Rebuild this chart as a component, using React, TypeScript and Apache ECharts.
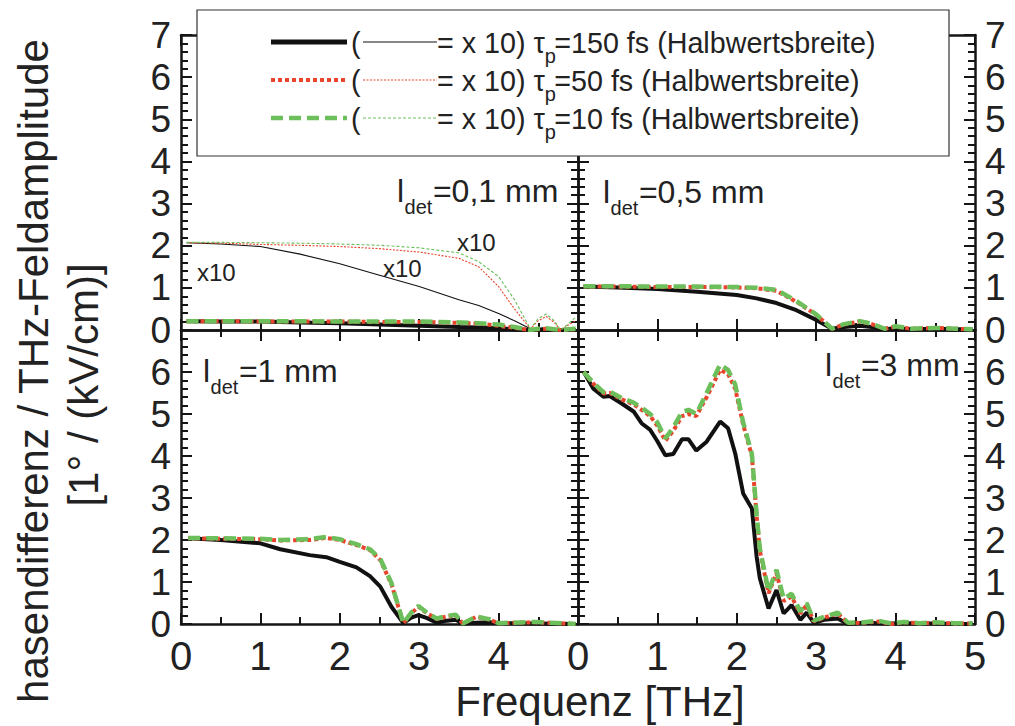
import React, { useEffect, useRef } from 'react';
import * as echarts from 'echarts';

const FONT = '"Liberation Sans", Arial, Helvetica, sans-serif';

// ---------- data (frequency in THz, amplitude) ----------
// l_det = 0,1 mm
const TL_F = [0.07, 0.5, 1.0, 1.5, 2.0, 2.5, 3.0, 3.5, 3.75, 4.0, 4.2, 4.4, 4.5, 4.6, 4.7, 4.78, 4.88, 4.97];
const TL_150 = [0.21, 0.2, 0.2, 0.18, 0.16, 0.13, 0.1, 0.07, 0.06, 0.04, 0.02, 0.0, 0.0, 0.01, 0.0, 0.0, 0.0, 0.0];
const TL_50 = [0.21, 0.21, 0.2, 0.2, 0.2, 0.19, 0.19, 0.17, 0.15, 0.1, 0.05, 0.0, 0.02, 0.03, 0.02, 0.0, 0.01, 0.02];
const TL_10 = [0.21, 0.21, 0.21, 0.21, 0.2, 0.2, 0.2, 0.18, 0.16, 0.13, 0.07, 0.0, 0.03, 0.04, 0.02, 0.0, 0.02, 0.03];
const TL_150_X10 = [2.07, 2.04, 1.98, 1.8, 1.57, 1.3, 1.03, 0.72, 0.58, 0.39, 0.22, 0.03, 0.04, 0.06, 0.03, 0.0, 0.02, 0.03];
const TL_50_X10 = [2.07, 2.06, 2.03, 2.01, 1.98, 1.93, 1.85, 1.7, 1.5, 1.03, 0.5, 0.03, 0.22, 0.32, 0.18, 0.0, 0.12, 0.22];
const TL_10_X10 = [2.08, 2.08, 2.07, 2.06, 2.04, 2.01, 1.95, 1.83, 1.62, 1.27, 0.72, 0.03, 0.27, 0.38, 0.22, 0.0, 0.15, 0.3];

// l_det = 0,5 mm
const TR_F = [0.07, 0.5, 1.0, 1.5, 2.0, 2.25, 2.5, 2.75, 3.0, 3.2, 3.35, 3.55, 3.7, 3.86, 4.0, 4.2, 4.5, 4.75, 4.97];
const TR_150 = [1.03, 1.01, 0.97, 0.91, 0.83, 0.75, 0.64, 0.47, 0.24, 0.03, 0.07, 0.1, 0.07, 0.02, 0.04, 0.02, 0.03, 0.02, 0.02];
const TR_50 = [1.03, 1.03, 1.02, 1.02, 1.01, 0.99, 0.93, 0.67, 0.36, 0.03, 0.13, 0.2, 0.14, 0.03, 0.08, 0.03, 0.05, 0.03, 0.02];
const TR_10 = [1.04, 1.04, 1.03, 1.03, 1.02, 1.0, 0.95, 0.69, 0.37, 0.03, 0.14, 0.21, 0.15, 0.03, 0.09, 0.03, 0.05, 0.03, 0.02];

// l_det = 1 mm
const BL_F = [0.09, 0.5, 1.0, 1.25, 1.62, 1.83, 2.0, 2.21, 2.38, 2.51, 2.65, 2.8, 2.9, 2.99, 3.1, 3.22, 3.35, 3.46, 3.55, 3.72, 3.89, 4.0, 4.46, 4.97];
const BL_150 = [2.04, 2.0, 1.92, 1.78, 1.64, 1.59, 1.48, 1.35, 1.14, 0.89, 0.41, 0.02, 0.15, 0.21, 0.14, 0.03, 0.08, 0.1, 0.01, 0.03, 0.04, 0.02, 0.01, 0.0];
const BL_50 = [2.04, 2.03, 2.02, 1.99, 2.0, 2.05, 2.0, 1.88, 1.76, 1.52, 0.95, 0.02, 0.25, 0.41, 0.25, 0.12, 0.18, 0.2, 0.01, 0.17, 0.1, 0.02, 0.04, 0.0];
const BL_10 = [2.05, 2.04, 2.03, 2.0, 2.02, 2.07, 2.02, 1.9, 1.78, 1.55, 0.98, 0.02, 0.27, 0.43, 0.27, 0.13, 0.19, 0.22, 0.01, 0.18, 0.11, 0.02, 0.05, 0.0];

// l_det = 3 mm
const BR_F = [0.07, 0.19, 0.32, 0.4, 0.55, 0.7, 0.8, 0.91, 1.0, 1.1, 1.2, 1.31, 1.39, 1.49, 1.62, 1.79, 1.89, 1.98, 2.08, 2.19, 2.25, 2.29, 2.4, 2.5, 2.59, 2.69, 2.8, 2.88, 2.97, 3.1, 3.27, 3.4, 3.6, 3.78, 3.95, 4.1, 4.3, 4.5, 4.75, 4.97];
const BR_150 = [6.01, 5.61, 5.41, 5.43, 5.25, 5.06, 4.78, 4.62, 4.35, 4.02, 4.05, 4.4, 4.4, 4.13, 4.34, 4.82, 4.66, 4.06, 3.11, 2.75, 1.6, 1.09, 0.37, 0.81, 0.25, 0.45, 0.1, 0.27, 0.03, 0.1, 0.13, 0.0, 0.03, 0.02, 0.01, 0.02, 0.01, 0.01, 0.0, 0.0];
const BR_50 = [6.0, 5.73, 5.49, 5.5, 5.35, 5.23, 5.1, 4.95, 4.72, 4.36, 4.6, 4.95, 5.0, 4.95, 5.4, 6.05, 5.95, 5.6, 4.75, 4.0, 2.56, 1.75, 0.73, 1.21, 0.55, 0.65, 0.25, 0.45, 0.06, 0.15, 0.25, 0.02, 0.03, 0.06, 0.0, 0.04, 0.02, 0.03, 0.01, 0.01];
const BR_10 = [6.0, 5.75, 5.52, 5.53, 5.38, 5.27, 5.15, 5.0, 4.8, 4.42, 4.68, 5.05, 5.1, 5.0, 5.5, 6.18, 6.05, 5.7, 4.8, 4.05, 2.6, 1.8, 0.78, 1.29, 0.6, 0.72, 0.3, 0.5, 0.08, 0.17, 0.27, 0.03, 0.04, 0.08, 0.01, 0.05, 0.02, 0.04, 0.02, 0.02];

const X_TICKS_MAX = 5;
const Y_TICKS_MAX = 7;
const PANEL_LABELS = ['=0,1 mm', '=0,5 mm', '=1 mm', '=3 mm'];
const LEGEND_LABELS = ['=150 fs (Halbwertsbreite)', '=50 fs (Halbwertsbreite)', '=10 fs (Halbwertsbreite)'];

// ---------- styles ----------
const C_BLACK = '#111111';
const C_RED = '#e8452c';
const C_GREEN = '#6cbf5a';
const AX = '#151515';

const GRIDS = [
  { left: 181, top: 35, width: 397, height: 295 },
  { left: 578, top: 35, width: 397, height: 295 },
  { left: 181, top: 330, width: 397, height: 294 },
  { left: 578, top: 330, width: 397, height: 294 },
];

function measure(text: string, size: number) {
  const ctx = document.createElement('canvas').getContext('2d')!;
  ctx.font = `${size}px ${FONT}`;
  return ctx.measureText(text).width;
}

function xAxisDef(gridIndex: number, position: 'bottom' | 'top', showLabels: boolean, hideMax: boolean) {
  return {
    type: 'value', gridIndex, position, min: 0, max: X_TICKS_MAX, interval: 1,
    axisLine: { show: true, onZero: false, lineStyle: { color: AX, width: 2.5 } },
    axisTick: { show: true, inside: true, length: 11, lineStyle: { color: AX, width: 2 } },
    minorTick: { show: true, splitNumber: 2, length: 7, lineStyle: { color: AX, width: 2 } },
    splitLine: { show: false },
    axisLabel: {
      show: showLabels, margin: 12, fontSize: 40, color: '#222', fontFamily: FONT,
      showMinLabel: true, showMaxLabel: true, hideOverlap: false,
      formatter: (v: number) => (hideMax && v === X_TICKS_MAX ? '' : String(v)),
    },
  };
}

function yAxisDef(gridIndex: number, position: 'left' | 'right', showLabels: boolean, hideMax: boolean) {
  return {
    type: 'value', gridIndex, position, min: 0, max: Y_TICKS_MAX, interval: 1,
    axisLine: { show: true, onZero: false, lineStyle: { color: AX, width: 2.5 } },
    axisTick: { show: true, inside: true, length: 11, lineStyle: { color: AX, width: 2 } },
    minorTick: { show: true, splitNumber: 5, length: 7, lineStyle: { color: AX, width: 2 } },
    splitLine: { show: false },
    axisLabel: {
      show: showLabels, margin: 10, fontSize: 37, lineHeight: 37, color: '#222', fontFamily: FONT,
      showMinLabel: true, showMaxLabel: true, hideOverlap: false,
      formatter: (v: number) => (hideMax && v === Y_TICKS_MAX ? '' : String(v)),
    },
  };
}

type Kind = 'black' | 'red' | 'green';
function lineStyle(kind: Kind, thin: boolean) {
  if (thin) {
    if (kind === 'black') return { color: C_BLACK, width: 1.1, type: 'solid' };
    if (kind === 'red') return { color: C_RED, width: 1.1, type: [2, 1.5] };
    return { color: C_GREEN, width: 1.1, type: [3, 2] };
  }
  if (kind === 'black') return { color: C_BLACK, width: 4, type: 'solid' };
  if (kind === 'red') return { color: C_RED, width: 4, type: [4, 3] };
  return { color: C_GREEN, width: 4.5, type: [12, 6] };
}

function series(name: string, grid: number, f: number[], v: number[], kind: Kind, thin = false) {
  return {
    name, type: 'line', xAxisIndex: grid, yAxisIndex: grid,
    data: f.map((x, i) => [x, v[i]]),
    symbol: 'none', smooth: false, silent: true,
    lineStyle: lineStyle(kind, thin),
    z: kind === 'black' ? 2 : kind === 'red' ? 3 : 4,
  };
}

function buildGraphics() {
  const g: any[] = [];
  const LF = 28.7;
  // legend box
  g.push({ type: 'rect', z: 100, shape: { x: 197, y: 10, width: 752, height: 146 }, style: { fill: '#fff', stroke: '#333', lineWidth: 1.2 } });
  const rows = [42, 80, 118];
  const kinds: Kind[] = ['black', 'red', 'green'];
  rows.forEach((y, i) => {
    const k = kinds[i];
    const thick = lineStyle(k, false);
    const thin = lineStyle(k, true);
    g.push({ type: 'line', z: 101, shape: { x1: 271, y1: y, x2: 347, y2: y }, style: { stroke: thick.color, lineWidth: i === 0 ? 5 : thick.width, lineDash: Array.isArray(thick.type) ? thick.type : null } });
    g.push({ type: 'text', z: 101, x: 351, y: y + 1, style: { text: '(', font: `${LF}px ${FONT}`, fill: '#222', verticalAlign: 'middle', align: 'left' } });
    g.push({ type: 'line', z: 101, shape: { x1: 363, y1: y, x2: 437, y2: y }, style: { stroke: thin.color, lineWidth: 1.1, lineDash: Array.isArray(thin.type) ? thin.type : null } });
    const t1 = '= x 10) τ';
    const w1 = measure(t1, LF);
    g.push({ type: 'text', z: 101, x: 437, y: y + 1, style: { text: t1, font: `${LF}px ${FONT}`, fill: '#222', verticalAlign: 'middle', align: 'left' } });
    const wp = measure('p', 20);
    g.push({ type: 'text', z: 101, x: 437 + w1, y: y + 14, style: { text: 'p', font: `20px ${FONT}`, fill: '#222', verticalAlign: 'middle', align: 'left' } });
    g.push({ type: 'text', z: 101, x: 437 + w1 + wp * 0.85, y: y + 1, style: { text: LEGEND_LABELS[i], font: `${LF}px ${FONT}`, fill: '#222', verticalAlign: 'middle', align: 'left' } });
  });
  // panel labels
  const pl = [
    { x: 397, y: 191 },
    { x: 603, y: 192 },
    { x: 203, y: 371 },
    { x: 825, y: 365 },
  ];
  pl.forEach((p, i) => {
    const wl = measure('l', 32);
    const wd = measure('det', 20);
    g.push({ type: 'text', z: 90, x: p.x, y: p.y, style: { text: 'l', font: `32px ${FONT}`, fill: '#222', verticalAlign: 'middle', align: 'left' } });
    g.push({ type: 'text', z: 90, x: p.x + wl + 0.5, y: p.y + 16, style: { text: 'det', font: `20px ${FONT}`, fill: '#222', verticalAlign: 'middle', align: 'left' } });
    g.push({ type: 'text', z: 90, x: p.x + wl + wd + 1, y: p.y, style: { text: PANEL_LABELS[i], font: `32px ${FONT}`, fill: '#222', verticalAlign: 'middle', align: 'left' } });
  });
  // x10 annotations
  [{ x: 197, y: 272 }, { x: 383, y: 268 }, { x: 457, y: 242 }].forEach((p) => {
    g.push({ type: 'text', z: 90, x: p.x, y: p.y, style: { text: 'x10', font: `24px ${FONT}`, fill: '#222', verticalAlign: 'middle', align: 'left' } });
  });
  // axis titles
  g.push({ type: 'text', z: 90, x: 33, y: 371, rotation: Math.PI / 2, style: { text: 'hasendifferenz / THz-Feldamplitude', font: `42px ${FONT}`, fill: '#222', verticalAlign: 'middle', align: 'center' } });
  g.push({ type: 'text', z: 90, x: 83, y: 385, rotation: Math.PI / 2, style: { text: '[1° / (kV/cm)]', font: `42px ${FONT}`, fill: '#222', verticalAlign: 'middle', align: 'center' } });
  g.push({ type: 'text', z: 90, x: 600, y: 701, style: { text: 'Frequenz [THz]', font: `42px ${FONT}`, fill: '#222', verticalAlign: 'middle', align: 'center' } });
  return g;
}

function buildOption() {
  const xAxis = [
    xAxisDef(0, 'bottom', false, false),
    xAxisDef(1, 'bottom', false, false),
    xAxisDef(2, 'bottom', true, true),
    xAxisDef(3, 'bottom', true, false),
    xAxisDef(0, 'top', false, false),
    xAxisDef(1, 'top', false, false),
    xAxisDef(2, 'top', false, false),
    xAxisDef(3, 'top', false, false),
  ];
  const yAxis = [
    yAxisDef(0, 'left', true, false),
    yAxisDef(1, 'left', false, false),
    yAxisDef(2, 'left', true, true),
    yAxisDef(3, 'left', false, false),
    yAxisDef(0, 'right', false, false),
    yAxisDef(1, 'right', true, false),
    yAxisDef(2, 'right', false, false),
    yAxisDef(3, 'right', true, true),
  ];
  const s = [
    series('150 fs', 0, TL_F, TL_150, 'black'),
    series('50 fs', 0, TL_F, TL_50, 'red'),
    series('10 fs', 0, TL_F, TL_10, 'green'),
    series('150 fs x10', 0, TL_F, TL_150_X10, 'black', true),
    series('50 fs x10', 0, TL_F, TL_50_X10, 'red', true),
    series('10 fs x10', 0, TL_F, TL_10_X10, 'green', true),
    series('150 fs', 1, TR_F, TR_150, 'black'),
    series('50 fs', 1, TR_F, TR_50, 'red'),
    series('10 fs', 1, TR_F, TR_10, 'green'),
    series('150 fs', 2, BL_F, BL_150, 'black'),
    series('50 fs', 2, BL_F, BL_50, 'red'),
    series('10 fs', 2, BL_F, BL_10, 'green'),
    series('150 fs', 3, BR_F, BR_150, 'black'),
    series('50 fs', 3, BR_F, BR_50, 'red'),
    series('10 fs', 3, BR_F, BR_10, 'green'),
  ];
  return {
    animation: false,
    backgroundColor: '#ffffff',
    grid: GRIDS.map((gr) => ({ ...gr, containLabel: false, outerBoundsMode: 'none' })),
    xAxis,
    yAxis,
    series: s,
    graphic: buildGraphics(),
  };
}

export default function App() {
  const ref = useRef<HTMLDivElement>(null);
  useEffect(() => {
    const chart = echarts.init(ref.current!, null, { renderer: 'svg' });
    chart.setOption(buildOption() as any);
    return () => chart.dispose();
  }, []);
  return (
    <div
      ref={ref}
      style={{ position: 'absolute', left: 0, top: 0, width: 1015, height: 726, background: '#fff' }}
    />
  );
}
